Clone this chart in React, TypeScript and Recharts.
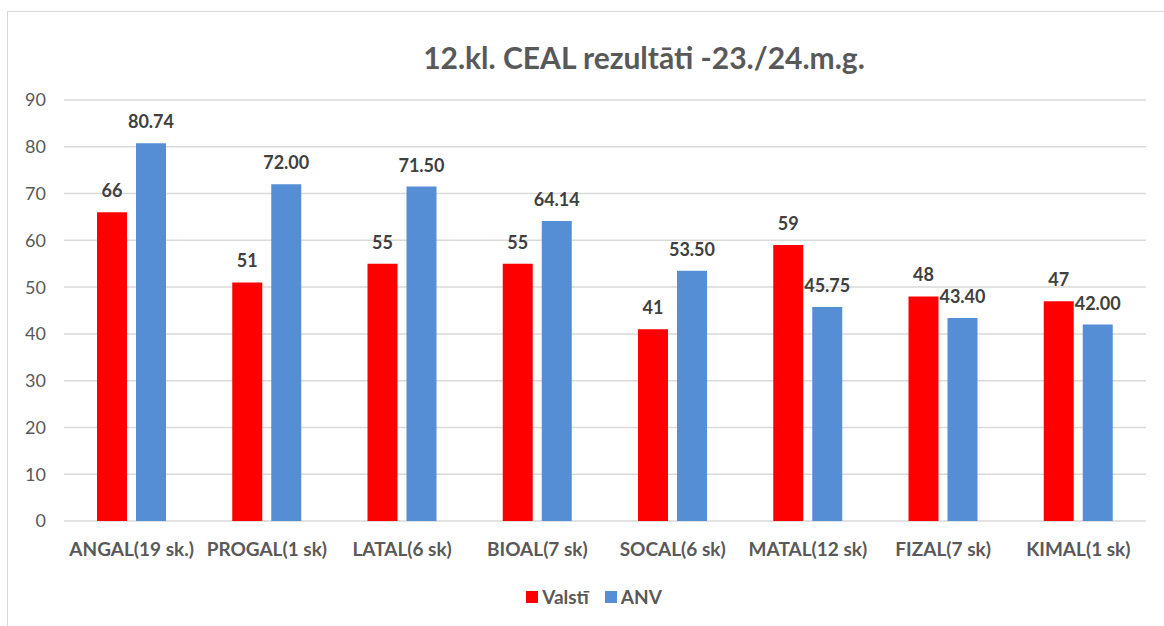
import React from 'react';
import { BarChart, Bar, XAxis, YAxis, CartesianGrid, LabelList, Legend } from 'recharts';

const categories = ['ANGAL(19 sk.)', 'PROGAL(1 sk)', 'LATAL(6 sk)', 'BIOAL(7 sk)', 'SOCAL(6 sk)', 'MATAL(12 sk)', 'FIZAL(7 sk)', 'KIMAL(1 sk)'];
const valstiValues = [66, 51, 55, 55, 41, 59, 48, 47];
const anvValues = [80.74, 72.0, 71.5, 64.14, 53.5, 45.75, 43.4, 42.0];
const yTicks = [0, 10, 20, 30, 40, 50, 60, 70, 80, 90];
const seriesNames = ['Valstī', 'ANV'];
const seriesColors = ['#FF0000', '#558ED5'];
const titleText = '12.kl. CEAL rezultāti -23./24.m.g.';

const data = categories.map((c, i) => ({ name: c, valsti: valstiValues[i], anv: anvValues[i] }));

const FONT = 'Lato, "Noto Sans", sans-serif';

const LegendContent = () => (
  <div style={{ display: 'flex', justifyContent: 'center', alignItems: 'center', fontFamily: FONT, fontSize: 19, fontWeight: 700, color: '#595959', paddingLeft: 16 }}>
    {seriesNames.map((n, i) => (
      <div key={n} style={{ display: 'flex', alignItems: 'center', marginRight: i === 0 ? 16 : 0 }}>
        <div style={{ width: 12, height: 12, background: seriesColors[i], marginRight: 4 }} />
        <span>{n}</span>
      </div>
    ))}
  </div>
);

export default function App() {
  return (
    <div style={{ position: 'absolute', left: 0, top: 0, width: 1164, height: 626, overflow: 'hidden', background: '#fff' }}>
      <div style={{ position: 'absolute', left: 7, top: 11, width: 1300, height: 800, border: '1px solid #D9D9D9', boxSizing: 'border-box' }} />
      <div style={{ position: 'absolute', left: 644, top: 57, transform: 'translate(-50%, -50%)', whiteSpace: 'nowrap', fontFamily: FONT, fontSize: 30, fontWeight: 700, color: '#595959' }}>
        {titleText}
      </div>
      <div style={{ position: 'absolute', left: 8, top: 8 }}>
        <BarChart width={1156} height={618} data={data} margin={{ top: 92, right: 18, left: 0, bottom: 0 }} barSize={30} barGap={9}>
          <CartesianGrid horizontal vertical={false} stroke="#D9D9D9" strokeWidth={1.5} />
          <XAxis dataKey="name" height={105} axisLine={false} tickLine={false} tickMargin={16} interval={0}
            tick={{ fontFamily: FONT, fontSize: 19, fontWeight: 700, fill: '#595959' }} />
          <YAxis domain={[0, 90]} ticks={yTicks} width={56} axisLine={false} tickLine={false} tickMargin={12}
            tick={{ fontFamily: FONT, fontSize: 18, fill: '#595959' }} />
          <Legend verticalAlign="middle" align="center" layout="horizontal" content={<LegendContent />}
            wrapperStyle={{ top: 577, left: 0, width: 1156 }} />
          <Bar dataKey="valsti" name={seriesNames[0]} fill={seriesColors[0]} isAnimationActive={false}>
            <LabelList dataKey="valsti" position="top" offset={15} formatter={(v: any) => String(Math.round(Number(v)))}
              style={{ fontFamily: FONT, fontSize: 18, fontWeight: 700, fill: '#404040' }} />
          </Bar>
          <Bar dataKey="anv" name={seriesNames[1]} fill={seriesColors[1]} isAnimationActive={false}>
            <LabelList dataKey="anv" position="top" offset={15} formatter={(v: any) => Number(v).toFixed(2)}
              style={{ fontFamily: FONT, fontSize: 18, fontWeight: 700, fill: '#404040' }} />
          </Bar>
        </BarChart>
      </div>
    </div>
  );
}
